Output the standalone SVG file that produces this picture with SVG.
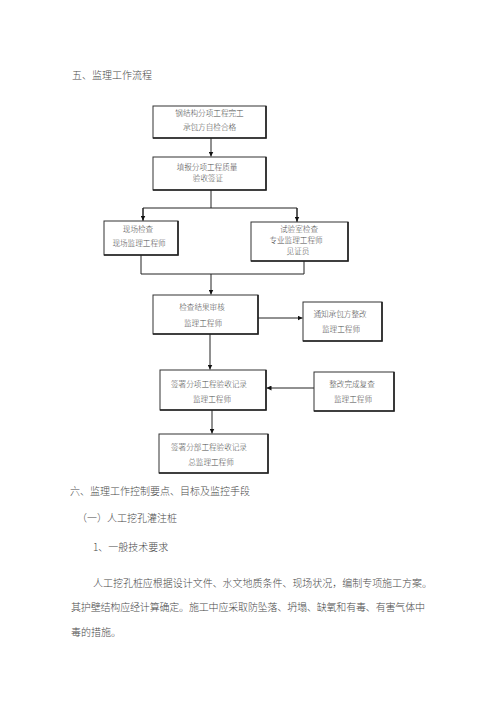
<svg xmlns="http://www.w3.org/2000/svg" width="500" height="708" viewBox="0 0 500 708">
<defs>
<style>
.t{font-family:"Noto Sans CJK SC","Liberation Serif",serif;fill:#4a4a4a;font-weight:300}
.h{font-size:10px}
.b{font-size:7.6px;text-anchor:middle}
.box{fill:#fff;stroke:#333;stroke-width:1}
.sh{fill:none;stroke:#222;stroke-width:1.6}
.c{fill:none;stroke:#222;stroke-width:1}
</style>
<marker id="ah" viewBox="0 0 8 8" refX="8" refY="4" markerWidth="5" markerHeight="5" orient="auto" markerUnits="userSpaceOnUse">
<path d="M0,0 L8,4 L0,8 z" fill="#111"/>
</marker>
</defs>
<rect width="500" height="708" fill="#fff"/>

<text class="t h" x="72" y="79">五、监理工作流程</text>

<g id="connectors">
<line class="c" x1="211" y1="138" x2="211" y2="156.5" marker-end="url(#ah)"/>
<polyline class="c" points="211,190 211,208"/>
<polyline class="c" points="143,221 143,208 297,208 297,222"/>
<line class="c" x1="143" y1="208" x2="143" y2="220.5" marker-end="url(#ah)"/>
<line class="c" x1="297" y1="208" x2="297" y2="221.5" marker-end="url(#ah)"/>
<polyline class="c" points="141,255 141,274 304,274 304,261"/>
<line class="c" x1="211" y1="274" x2="211" y2="294.5" marker-end="url(#ah)"/>
<line class="c" x1="258" y1="318" x2="302.5" y2="318" marker-end="url(#ah)"/>
<line class="c" x1="210" y1="334" x2="210" y2="369.5" marker-end="url(#ah)"/>
<line class="c" x1="314" y1="388" x2="266.5" y2="388" marker-end="url(#ah)"/>
<line class="c" x1="212" y1="410" x2="212" y2="433.5" marker-end="url(#ah)"/>
</g>

<g id="n1">
<rect class="box" x="153" y="106" width="113" height="32"/>
<polyline class="sh" points="266,106 266,138 153,138"/>
<text class="t b" x="209.5" y="116">钢结构分项工程完工</text>
<text class="t b" x="209.5" y="130">承包方自检合格</text>
</g>

<g id="n2">
<rect class="box" x="153" y="157" width="113" height="33"/>
<polyline class="sh" points="266,157 266,190 153,190"/>
<text class="t b" x="207" y="170">填报分项工程质量</text>
<text class="t b" x="208" y="181">验收签证</text>
</g>

<g id="n3">
<rect class="box" x="104" y="221" width="74" height="34"/>
<polyline class="sh" points="178,221 178,255 104,255"/>
<text class="t b" x="138" y="232">现场检查</text>
<text class="t b" x="139" y="246">现场监理工程师</text>
</g>

<g id="n4">
<rect class="box" x="251" y="222" width="97" height="39"/>
<polyline class="sh" points="348,222 348,261 251,261"/>
<text class="t b" x="299" y="232">试验室检查</text>
<text class="t b" x="296" y="243">专业监理工程师</text>
<text class="t b" x="298" y="254">见证员</text>
</g>

<g id="n5">
<rect class="box" x="153" y="295" width="105" height="39"/>
<polyline class="sh" points="258,295 258,334 153,334"/>
<text class="t b" x="202" y="310">检查结果审核</text>
<text class="t b" x="203" y="326">监理工程师</text>
</g>

<g id="n6">
<rect class="box" x="303" y="302" width="79" height="39"/>
<polyline class="sh" points="382,302 382,341 303,341"/>
<text class="t b" x="340" y="317">通知承包方整改</text>
<text class="t b" x="341" y="332">监理工程师</text>
</g>

<g id="n7">
<rect class="box" x="160" y="370" width="106" height="40"/>
<polyline class="sh" points="266,370 266,410 160,410"/>
<text class="t b" x="209" y="387">签署分项工程验收记录</text>
<text class="t b" x="212" y="402">监理工程师</text>
</g>

<g id="n8">
<rect class="box" x="314" y="372" width="80" height="39"/>
<polyline class="sh" points="394,372 394,411 314,411"/>
<text class="t b" x="352" y="387">整改完成复查</text>
<text class="t b" x="353" y="402">监理工程师</text>
</g>

<g id="n9">
<rect class="box" x="159" y="434" width="109" height="39"/>
<polyline class="sh" points="268,434 268,473 159,473"/>
<text class="t b" x="209" y="450">签署分部工程验收记录</text>
<text class="t b" x="211" y="465">总监理工程师</text>
</g>

<text class="t h" x="70" y="494.5">六、监理工作控制要点、目标及监控手段</text>
<text class="t h" x="77" y="521.5">（一）人工挖孔灌注桩</text>
<text class="t h" x="93" y="550.5">1、一般技术要求</text>
<text class="t h" x="93" y="586.5" textLength="339" lengthAdjust="spacing">人工挖孔桩应根据设计文件、水文地质条件、现场状况，编制专项施工方案。</text>
<text class="t h" x="71" y="610.5" textLength="354" lengthAdjust="spacing">其护壁结构应经计算确定。施工中应采取防坠落、坍塌、缺氧和有毒、有害气体中</text>
<text class="t h" x="71" y="635.5">毒的措施。</text>
</svg>
